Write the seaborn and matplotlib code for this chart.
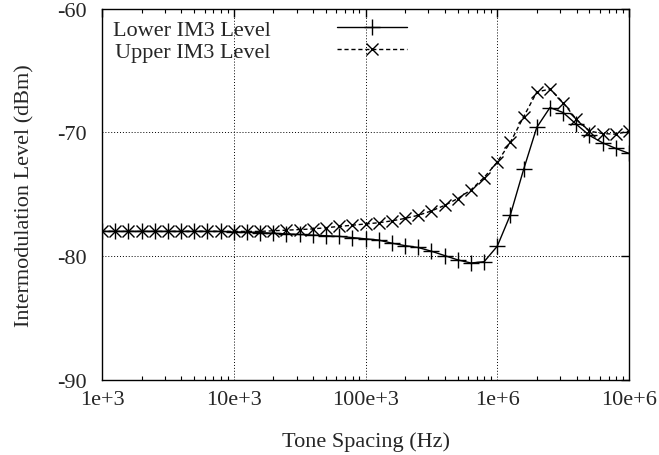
import numpy as np
import pandas as pd
import matplotlib
matplotlib.use("Agg")
import matplotlib.pyplot as plt
import matplotlib.ticker as mticker
import seaborn as sns

# Tone spacing points: 10 per decade, 1e3 .. 1e7
freq_exp = [3 + k / 10 for k in range(41)]
freq_hz = [10 ** e for e in freq_exp]

lower_im3 = [-78.0] * 10 + [
    -78.05, -78.05, -78.1, -78.15, -78.2, -78.25, -78.3, -78.35, -78.4, -78.5,
    -78.6, -78.7, -78.95, -79.15, -79.3, -79.6, -79.95, -80.3, -80.55, -80.45,
    -79.2, -76.65, -73.0, -69.6, -68.0, -68.4, -69.35, -70.25, -70.85, -71.3,
    -71.7]
upper_im3 = [-78.0] * 10 + [
    -78.0, -78.0, -78.0, -77.95, -77.9, -77.85, -77.8, -77.7, -77.6, -77.5,
    -77.4, -77.3, -77.15, -76.95, -76.7, -76.35, -75.9, -75.35, -74.65, -73.65,
    -72.4, -70.8, -68.75, -66.75, -66.5, -67.6, -68.95, -69.9, -70.1, -70.15,
    -69.9]

x_ticks = [1e3, 1e4, 1e5, 1e6, 1e7]
x_tick_labels = ["1e+3", "10e+3", "100e+3", "1e+6", "10e+6"]
y_ticks = [-90, -80, -70, -60]
y_tick_labels = ["-90", "-80", "-70", "-60"]

df_low = pd.DataFrame({"f": freq_hz, "v": lower_im3})
df_up = pd.DataFrame({"f": freq_hz, "v": upper_im3})

sns.set_style("white")
plt.rcParams["font.family"] = ["Liberation Serif", "DejaVu Serif"]
plt.rcParams["font.size"] = 16

fig = plt.figure(figsize=(6.59, 4.56), dpi=100)
ax = fig.add_axes([102 / 659, 1 - 381 / 456, 527 / 659, (381 - 9.5) / 456])

sns.lineplot(data=df_low, x="f", y="v", ax=ax, color="black", lw=1.0,
             marker="+", markersize=11, markeredgewidth=1.0,
             markeredgecolor="black", markerfacecolor="black",
             label="Lower IM3 Level")
sns.lineplot(data=df_up, x="f", y="v", ax=ax, color="black", lw=1.0,
             marker="x", markersize=9, markeredgewidth=1.0,
             markeredgecolor="black", markerfacecolor="black",
             linestyle=(0, (3, 2)), label="Upper IM3 Level")

ax.set_xscale("log")
ax.set_xlim(1e3, 1e7)
ax.set_ylim(-90, -60)
ax.set_xticks(x_ticks)
ax.set_xticklabels(x_tick_labels)
ax.xaxis.set_minor_locator(mticker.LogLocator(base=10, subs=np.arange(2, 10)))
ax.xaxis.set_minor_formatter(mticker.NullFormatter())
ax.set_yticks(y_ticks)
ax.set_yticklabels(y_tick_labels)

ax.grid(True, which="major", color="black", linestyle=(0, (1, 2)), lw=0.7)
for s in ax.spines.values():
    s.set_color("black")
    s.set_linewidth(1.0)

ax.tick_params(axis="both", which="major", direction="in", length=6, width=1,
               top=True, right=True, labelsize=16, color="black")
ax.tick_params(axis="x", which="minor", direction="in", length=3, width=0.8,
               top=True, bottom=True, color="black")
ax.tick_params(axis="x", which="major", pad=7)
ax.tick_params(axis="y", which="major", pad=11)

ax.set_xlabel("Tone Spacing (Hz)", fontsize=16, labelpad=16)
ax.set_ylabel("Intermodulation Level (dBm)", fontsize=16, labelpad=16)

leg = ax.legend(loc="upper left", frameon=False, markerfirst=False,
                handlelength=3.15, handletextpad=2.95, labelspacing=0.05,
                borderaxespad=0.3, fontsize=16, borderpad=0.2)

fig.savefig("out.png", dpi=100)
